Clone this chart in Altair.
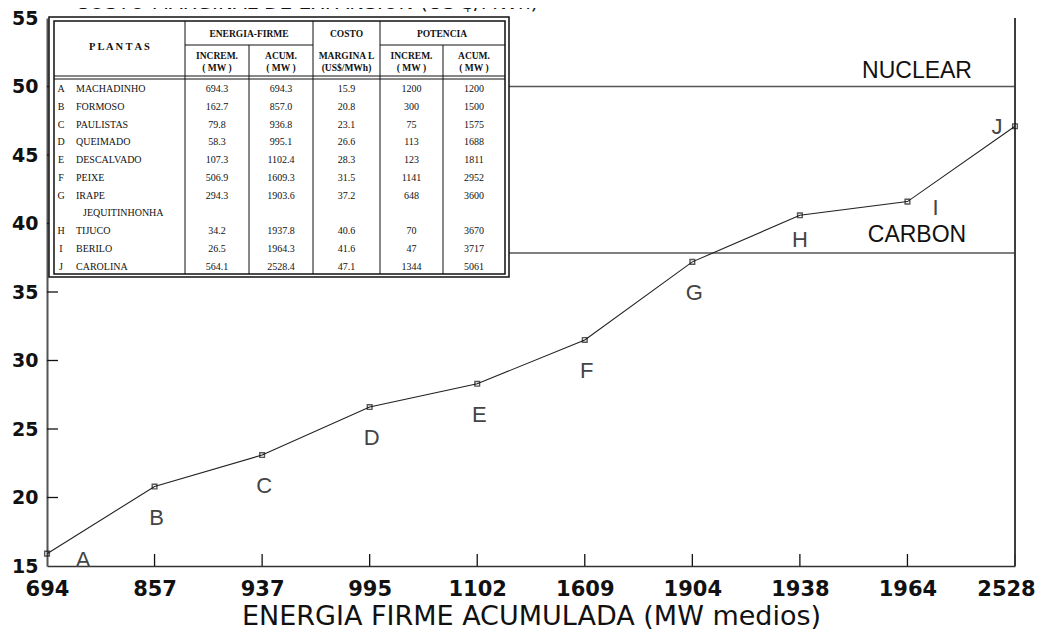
import altair as alt
import pandas as pd

# ---------------- data ----------------
letters = ["A", "B", "C", "D", "E", "F", "G", "H", "I", "J"]
plantas = ["MACHADINHO", "FORMOSO", "PAULISTAS", "QUEIMADO", "DESCALVADO",
           "PEIXE", "IRAPE", "TIJUCO", "BERILO", "CAROLINA"]
energia_incr = ["694.3", "162.7", "79.8", "58.3", "107.3", "506.9", "294.3", "34.2", "26.5", "564.1"]
energia_acum = ["694.3", "857.0", "936.8", "995.1", "1102.4", "1609.3", "1903.6", "1937.8", "1964.3", "2528.4"]
costo_marginal = [15.9, 20.8, 23.1, 26.6, 28.3, 31.5, 37.2, 40.6, 41.6, 47.1]
potencia_incr = ["1200", "300", "75", "113", "123", "1141", "648", "70", "47", "1344"]
potencia_acum = ["1200", "1500", "1575", "1688", "1811", "2952", "3600", "3670", "3717", "5061"]
x_tick_labels = ["694", "857", "937", "995", "1102", "1609", "1904", "1938", "1964", "2528"]
y_tick_values = [15, 20, 25, 30, 35, 40, 45, 50, 55]
ref_names = ["NUCLEAR", "CARBON"]
ref_costs = [50, 37.85]

# ---------------- layout ----------------
W, H = 968, 548
FONT = "DejaVu Sans"
SERIF = "Liberation Serif"

df = pd.DataFrame({"letter": letters, "acum": x_tick_labels, "costo": costo_marginal})

x_enc = alt.X(
    "acum:O",
    sort=None,
    scale=alt.Scale(type="point", domain=x_tick_labels, padding=0),
    axis=alt.Axis(
        title="ENERGIA FIRME ACUMULADA (MW medios)",
        labelFont=FONT, labelFontSize=21, labelFontWeight="bold", labelColor="#111",
        labelAngle=0, labelPadding=12, ticks=False,
        labelOffset={"condition": {"test": "datum.value == '2528'", "value": -9}, "value": 0},
        domain=True, domainColor="#333", domainWidth=1.5,
        titleFont=FONT, titleFontSize=27, titleFontWeight="normal", titleColor="#111",
        titlePadding=4,
    ),
)
y_enc = alt.Y(
    "costo:Q",
    scale=alt.Scale(domain=[15, 55], nice=False, zero=False),
    axis=alt.Axis(
        title=None, values=y_tick_values,
        labelFont=FONT, labelFontSize=19, labelFontWeight="bold", labelColor="#111",
        labelPadding=9, ticks=False, grid=False,
        domain=True, domainColor="#555", domainWidth=2,
    ),
)

# reference lines (start at right edge of the inset table)
ref_df = pd.DataFrame({"name": ref_names, "costo": ref_costs})
ref_lines = alt.Chart(ref_df).mark_rule(color="#555", strokeWidth=1.5).encode(
    y=y_enc, x=alt.value(462), x2=alt.value(W)
)

# inward ticks
ytick_df = pd.DataFrame({"costo": y_tick_values[1:-1]})
y_ticks = alt.Chart(ytick_df).mark_rule(color="#111", strokeWidth=1.3).encode(
    y=y_enc, x=alt.value(0), x2=alt.value(11)
)
xtick_df = pd.DataFrame({"acum": x_tick_labels[1:]})
x_ticks = alt.Chart(xtick_df).mark_rule(color="#111", strokeWidth=1.3).encode(
    x=x_enc, y=alt.value(H), y2=alt.value(H - 12)
)

right_border = alt.Chart(ref_df).mark_rule(color="#333", strokeWidth=1.5).encode(
    x=alt.value(W), y=alt.value(0), y2=alt.value(H)
)

line = alt.Chart(df).mark_line(color="#222", strokeWidth=1.1).encode(x=x_enc, y=y_enc)
points = alt.Chart(df).mark_point(shape="square", size=22, filled=False, color="#111",
                                  strokeWidth=1.4).encode(x=x_enc, y=y_enc)

offsets = {"A": (36, 6), "H": (0, 25), "I": (28, 6), "J": (-18, 1)}
label_layers = []
for L in letters:
    dx, dy = offsets.get(L, (2, 31))
    label_layers.append(
        alt.Chart(df).transform_filter(alt.datum.letter == L)
        .mark_text(font="Liberation Sans", fontSize=22, color="#444", dx=dx, dy=dy,
                   baseline="middle", align="center")
        .encode(x=x_enc, y=y_enc, text="letter:N")
    )

ref_text = alt.Chart(ref_df).mark_text(font="Liberation Sans", fontSize=23, color="#111",
                                       baseline="middle", align="center").encode(
    x=alt.value(870),
    y=alt.Y("ty:Q", scale=None),
    text="name:N",
).transform_calculate(ty="datum.name == 'NUCLEAR' ? 53 : 217")

top_title = alt.Chart(ref_df.head(1)).mark_text(
    font=FONT, fontSize=20, color="#111", align="left", baseline="alphabetic"
).encode(x=alt.value(28), y=alt.value(-9), text=alt.value("COSTO MARGINAL DE EXPANSION (US $/MWh)"))

main = alt.layer(ref_lines, y_ticks, x_ticks, right_border, line, points, *label_layers,
                 ref_text, top_title)

# ---------------- inset table ----------------
col_sep = [138, 202, 266, 333, 396]
col_center = [170, 234, 299.5, 364.5, 427]
t_left, t_right, t_top, t_bot = 7, 458, 3, 256

boxes = pd.DataFrame({
    "x1": [2, t_left], "x2": [462, t_right], "y1": [-1, t_top], "y2": [259, t_bot],
})
box_outer = alt.Chart(boxes.head(1)).mark_rect(fill="white", stroke="#111", strokeWidth=1.5).encode(
    x=alt.X("x1:Q", scale=None), x2="x2:Q", y=alt.Y("y1:Q", scale=None), y2="y2:Q")
box_inner = alt.Chart(boxes.tail(1)).mark_rect(fill="white", stroke="#111", strokeWidth=1.5).encode(
    x=alt.X("x1:Q", scale=None), x2="x2:Q", y=alt.Y("y1:Q", scale=None), y2="y2:Q")

seg = pd.DataFrame({
    "x1": [col_sep[0], col_sep[1], col_sep[2], col_sep[3], col_sep[4], col_sep[0], col_sep[3], t_left, t_left],
    "x2": [col_sep[0], col_sep[1], col_sep[2], col_sep[3], col_sep[4], col_sep[2], t_right, t_right, t_right],
    "y1": [t_top, 27, t_top, t_top, 27, 27, 27, 58, 61],
    "y2": [t_bot, t_bot, t_bot, t_bot, t_bot, 27, 27, 58, 61],
})
table_lines = alt.Chart(seg).mark_rule(color="#111", strokeWidth=1).encode(
    x=alt.X("x1:Q", scale=None), x2="x2:Q", y=alt.Y("y1:Q", scale=None), y2="y2:Q")

header = pd.DataFrame({
    "t": ["P L A N T A S", "ENERGIA-FIRME", "COSTO", "POTENCIA",
          "INCREM.", "ACUM.", "MARGINA L", "INCREM.", "ACUM.",
          "( MW )", "( MW )", "(US$/MWh)", "( MW )", "( MW )"],
    "px": [72.5, 202, 299.5, 395] + col_center + col_center,
    "py": [29, 16, 16, 16] + [38] * 5 + [50] * 5,
    "fs": [10.5, 9.5, 9.5, 9.5] + [9.5] * 10,
})
header_text = alt.Chart(header).mark_text(font=SERIF, fontWeight="bold", color="#111",
                                          align="center", baseline="middle").encode(
    x=alt.X("px:Q", scale=None), y=alt.Y("py:Q", scale=None), text="t:N",
    size=alt.Size("fs:Q", scale=None, legend=None))

row_y = [71 + 17.75 * (i if i < 7 else i + 1) for i in range(10)]
rows = pd.DataFrame({
    "letter": letters, "planta": plantas, "ry": row_y,
    "c1": energia_incr, "c2": energia_acum, "c3": [f"{v:.1f}" for v in costo_marginal],
    "c4": potencia_incr, "c5": potencia_acum,
})
FS = 10
row_letters = alt.Chart(rows).mark_text(font=SERIF, fontSize=FS, color="#111", align="center",
                                        baseline="middle").encode(
    x=alt.value(14), y=alt.Y("ry:Q", scale=None), text="letter:N")
row_names = alt.Chart(rows).mark_text(font=SERIF, fontSize=FS, color="#111", align="left",
                                      baseline="middle").encode(
    x=alt.value(29), y=alt.Y("ry:Q", scale=None), text="planta:N")
jeq = alt.Chart(rows.head(1)).mark_text(font=SERIF, fontSize=FS, color="#111", align="left",
                                        baseline="middle").encode(
    x=alt.value(36), y=alt.value(71 + 17.75 * 7), text=alt.value("JEQUITINHONHA"))
value_layers = []
for c, cx in zip(["c1", "c2", "c3", "c4", "c5"], col_center):
    value_layers.append(
        alt.Chart(rows).mark_text(font=SERIF, fontSize=FS, color="#111", align="center",
                                  baseline="middle").encode(
            x=alt.value(cx), y=alt.Y("ry:Q", scale=None), text=f"{c}:N")
    )

table = alt.layer(box_outer, box_inner, table_lines, header_text, row_letters, row_names, jeq,
                  *value_layers)

chart = alt.layer(main, table).resolve_scale(x="independent", y="independent").properties(
    width=W, height=H,
    autosize=alt.AutoSizeParams(type="none"),
    padding={"left": 39, "top": 10, "right": 22, "bottom": 64},
    background="white",
).configure_view(stroke=None)

chart.save("out.html", embed_options={"renderer": "svg", "actions": False})
